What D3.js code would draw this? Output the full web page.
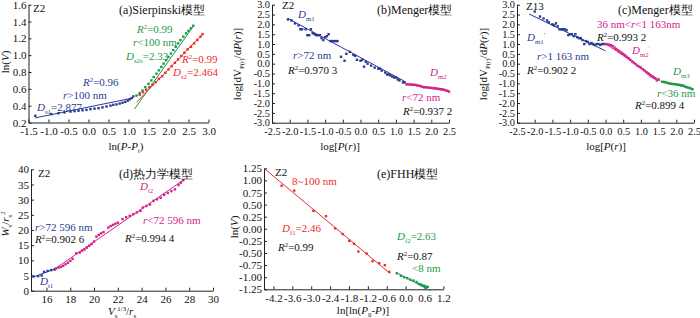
<!DOCTYPE html>
<html>
<head>
<meta charset="utf-8">
<script src="https://cdn.jsdelivr.net/npm/d3@7"></script>
<style>
  body { margin: 0; background: #fff; }
  svg text { font-family: "Liberation Serif", "Times New Roman", serif; }
  .tick text { font-size: 11px; }
  .tight .tick text { font-size: 10.3px; }
  .domain, .tick line { stroke: #222; }
</style>
</head>
<body>
<svg id="chart"></svg>
<script>
const width = 700;
const height = 318;

const BLUE = "#2b3a91";
const RED = "#ee2a2a";
const GREEN = "#1c9a49";
const PINK = "#d1228a";

// (a) Sierpinski model : ln(P-Pt) vs ln(V)
const aBlue = [[-1.33,0.28],[-0.93,0.30],[-0.75,0.31],[-0.6,0.32],[-0.45,0.33],[-0.35,0.335],[-0.25,0.34],
  [-0.15,0.345],[-0.05,0.35],[0.05,0.36],[0.15,0.365],[0.25,0.37],[0.35,0.38],[0.45,0.39],[0.55,0.40],
  [0.62,0.41],[0.7,0.415],[0.78,0.425],[0.85,0.435],[0.92,0.445],[0.98,0.46],[1.03,0.475],[1.08,0.49],[1.12,0.51]];
const aGreen = [[1.2,0.52],[1.28,0.55],[1.35,0.58],[1.42,0.62],[1.5,0.66],[1.57,0.70],[1.63,0.74],[1.7,0.78],
  [1.76,0.82],[1.82,0.86],[1.88,0.90],[1.94,0.94],[2.0,0.98],[2.06,1.02],[2.12,1.06],[2.18,1.10],[2.24,1.14],
  [2.3,1.18],[2.37,1.22],[2.44,1.26],[2.5,1.29],[2.56,1.32],[2.62,1.35]];
const aRed = [[1.28,0.53],[1.36,0.56],[1.44,0.59],[1.52,0.62],[1.6,0.65],[1.68,0.68],[1.76,0.72],[1.84,0.75],
  [1.92,0.79],[2.0,0.83],[2.08,0.87],[2.16,0.91],[2.24,0.95],[2.32,0.99],[2.4,1.03],[2.48,1.07],[2.56,1.10],
  [2.64,1.14],[2.72,1.18],[2.8,1.22],[2.85,1.25]];
const aBlueFit = [[-1.33,0.255],[1.1,0.49]];
const aGreenFit = [[1.15,0.36],[2.63,1.35]];
const aRedFit = [[1.2,0.44],[2.85,1.25]];
const aXTicks = [-1.5,-1.0,-0.5,0.0,0.5,1.0,1.5,2.0,2.5,3.0];
const aYTicks = [0.2,0.4,0.6,0.8,1.0,1.2,1.4,1.6];

// (b) Menger model, Z2
const bBlue = [[-2.05,2.25],[-1.95,2.2],[-1.85,2.05],[-1.75,1.95],[-1.7,1.75],[-1.65,1.75],[-1.55,1.75],
  [-1.5,1.45],[-1.45,1.45],[-1.4,1.75],[-1.35,1.55],[-1.3,1.5],[-1.25,1.45],[-1.2,1.45],[-1.15,1.45],
  [-1.1,1.3],[-1.05,1.2],[-1.0,1.35],[-0.95,1.4],[-0.9,1.5],[-0.85,1.15],[-0.8,1.15],[-0.75,1.15],
  [-0.7,1.15],[-0.65,1.15],[-0.55,0.35],[-0.45,0.15],[-0.4,0.5],[-0.3,0.6],[-0.2,0.45],[-0.15,0.4],
  [-0.1,0.2],[0.0,0.15],[0.05,0.2],[0.1,-0.15],[0.15,0.1],[0.2,0.0],[0.3,-0.1],[0.4,-0.2],[0.5,-0.25],
  [0.55,-0.25],[0.6,-0.35],[0.7,-0.45],[0.75,-0.55],[0.8,-0.55],[0.85,-0.6],[0.9,-0.65],[0.95,-0.7],
  [1.0,-0.7],[1.05,-0.8],[1.1,-0.85],[1.2,-0.95],[1.25,-0.95]];
const bPink = [[1.3,-1.05],[1.35,-1.05],[1.4,-1.06],[1.45,-1.06],[1.5,-1.07],[1.55,-1.08],[1.6,-1.1],
  [1.65,-1.12],[1.7,-1.14],[1.75,-1.18],[1.8,-1.2],[1.85,-1.2],[1.9,-1.21],[1.95,-1.22],[2.0,-1.23],
  [2.05,-1.24],[2.1,-1.25],[2.15,-1.26],[2.2,-1.28],[2.25,-1.29],[2.3,-1.3],[2.35,-1.32],[2.4,-1.35],
  [2.45,-1.38],[2.5,-1.42]];
const bBlueFit = [[-2.05,2.3],[1.25,-0.9]];
const bPinkFit = [[1.3,-1.03],[2.5,-1.4]];
const mXTicks = [-2.5,-2.0,-1.5,-1.0,-0.5,0.0,0.5,1.0,1.5,2.0,2.5];
const mYTicks = [-3.0,-2.5,-2.0,-1.5,-1.0,-0.5,0.0,0.5,1.0,1.5,2.0,2.5,3.0];

// (c) Menger model, Z13
const cBlue = [[-2.0,2.65],[-1.85,2.4],[-1.75,2.3],[-1.65,2.2],[-1.6,2.1],[-1.5,2.0],[-1.45,1.95],
  [-1.4,2.05],[-1.35,1.9],[-1.3,1.75],[-1.25,1.75],[-1.2,1.75],[-1.15,1.75],[-1.1,1.7],[-1.05,1.45],
  [-1.0,1.5],[-0.95,1.5],[-0.9,1.4],[-0.85,1.5],[-0.8,1.35],[-0.75,1.3],[-0.7,1.3],[-0.65,1.2],
  [-0.6,1.0],[-0.55,1.15],[-0.5,1.1],[-0.45,1.0],[-0.4,1.05],[-0.35,1.0],[-0.3,0.95],[-0.25,1.0],
  [-0.2,1.0],[-0.15,0.95],[-0.1,1.0],[-0.05,1.0]];
const cPink = [[0.0,1.0],[0.05,0.99],[0.1,0.97],[0.15,0.94],[0.2,0.9],[0.25,0.82],[0.3,0.75],[0.35,0.68],
  [0.4,0.62],[0.45,0.56],[0.5,0.5],[0.55,0.43],[0.6,0.35],[0.65,0.28],[0.7,0.2],[0.75,0.12],[0.8,0.05],
  [0.85,-0.02],[0.9,-0.1],[0.95,-0.15],[1.0,-0.2],[1.05,-0.28],[1.1,-0.35],[1.15,-0.43],[1.2,-0.5],
  [1.25,-0.58],[1.3,-0.65],[1.35,-0.7],[1.4,-0.75],[1.45,-0.85],[1.5,-0.8]];
const cGreen = [[1.6,-0.92],[1.65,-0.93],[1.7,-0.95],[1.75,-0.98],[1.8,-1.0],[1.85,-1.02],[1.9,-1.03],
  [1.95,-1.04],[2.0,-1.05],[2.05,-1.07],[2.1,-1.08],[2.15,-1.1],[2.2,-1.12],[2.25,-1.16],[2.3,-1.2],
  [2.35,-1.22],[2.4,-1.25],[2.45,-1.3]];
const cBlueFit = [[-2.16,2.53],[0.0,0.65]];
const cPinkFit = [[0.0,1.02],[1.55,-0.87]];
const cGreenFit = [[1.6,-0.9],[2.5,-1.3]];

// (d) thermodynamic model
const dBlue = [[14.9,4.7],[15.3,4.8],[15.6,5.0],[15.8,6.2],[16.1,6.5],[16.4,6.8],[16.7,7.0]];
const dPink = [[16.8,7.3],[17.0,7.6],[17.2,7.8],[17.4,8.2],[17.6,8.7],[17.8,9.2],[18.0,9.8],[18.2,10.5],
  [18.5,12.3],[18.8,12.6],[19.0,13.2],[19.2,13.6],[19.4,14.2],[19.6,14.8],[19.8,15.4],[20.0,16.2],
  [20.2,17.8],[20.4,18.4],[20.6,18.9],[20.8,19.3],[21.2,20.8],[21.4,21.3],[21.6,21.7],[21.8,22.1],
  [22.0,22.4],[22.4,23.6],[22.7,24.2],[23.0,24.7],[23.3,25.2],[23.6,25.8],[23.9,26.3],[24.1,27.4],
  [24.4,27.9],[24.7,28.4],[25.0,29.6],[25.3,30.1],[25.6,30.6],[25.9,31.6],[26.2,32.2],[26.5,32.8],
  [26.8,33.4],[27.1,34.8],[27.3,35.6],[27.5,36.4]];
const dBlueFit = [[14.9,4.5],[16.8,7.3]];
const dPinkFit = [[16.6,6.9],[27.6,36.7]];
const dXTicks = [16,18,20,22,24,26,28,30];
const dYTicks = [0,5,10,15,20,25,30,35,40];

// (e) FHH model
const eRed = [[-3.94,0.89],[-3.54,0.79],[-2.93,0.37],[-2.53,0.26],[-2.24,0.01],[-2.0,-0.11],[-1.79,-0.25],
  [-1.64,-0.31],[-1.5,-0.47],[-1.24,-0.51],[-1.05,-0.67],[-0.84,-0.71],[-0.66,-0.75],[-0.52,-0.89]];
const eGreen = [[-0.28,-0.92],[-0.15,-0.97],[-0.05,-1.0],[0.05,-1.02],[0.15,-1.05],[0.25,-1.07],
  [0.35,-1.1],[0.42,-1.14],[0.48,-1.15],[0.52,-1.17],[0.56,-1.18],[0.6,-1.18],[0.65,-1.2],[0.7,-1.2]];
const eRedFit = [[-4.5,1.25],[-0.5,-0.92]];
const eGreenFit = [[-0.28,-0.91],[0.8,-1.28]];
const eXTicks = [-4.2,-3.6,-3.0,-2.4,-1.8,-1.2,-0.6,0.0,0.6,1.2];
const eYTicks = [-1.25,-1.0,-0.75,-0.5,-0.25,0.0,0.25,0.5,0.75,1.0,1.25];

const svg = d3.select("#chart").attr("width", width).attr("height", height);
svg.append("rect").attr("width", width).attr("height", height).attr("fill", "#fff");

// small markup: *italic*, _{sub}, ^{sup}
function rich(sel, str) {
  const parts = str.split(/(\*[^*]+\*|_\{[^}]*\}|\^\{[^}]*\})/).filter((s) => s);
  let shift = 0;
  parts.forEach((p) => {
    let t = p, italic = false, dy = 0, small = false;
    if (p[0] === "*") { t = p.slice(1, -1); italic = true; }
    else if (p[0] === "_") { t = p.slice(2, -1); dy = 3; small = true; }
    else if (p[0] === "^") { t = p.slice(2, -1); dy = -4; small = true; }
    const ts = sel.append("tspan").text(t).attr("dy", dy - shift);
    shift = dy;
    if (italic) ts.attr("font-style", "italic");
    if (small) ts.attr("font-size", "0.62em");
  });
}

function note(x, y, str, color, size) {
  const t = svg.append("text").attr("x", x).attr("y", y)
    .attr("fill", color || "#111").attr("font-size", size || 11);
  rich(t, str);
  return t;
}

function panel(o) {
  const x = d3.scaleLinear().domain(o.xd).range(o.xr);
  const y = d3.scaleLinear().domain(o.yd).range(o.yr);
  const g = svg.append("g");
  g.append("g")
    .attr("class", o.tight ? "tight" : null)
    .attr("transform", `translate(0,${o.yr[0]})`)
    .call(d3.axisBottom(x).tickValues(o.xt).tickFormat(o.xf)
      .tickSizeInner(-3).tickSizeOuter(0).tickPadding(5));
  g.append("g")
    .attr("class", o.tight ? "tight" : null)
    .attr("transform", `translate(${o.xr[0]},0)`)
    .call(d3.axisLeft(y).tickValues(o.yt).tickFormat(o.yf)
      .tickSizeInner(-3).tickSizeOuter(0).tickPadding(2));
  g.selectAll(".tick text").attr("fill", "#111");

  const xt = g.append("text").attr("x", o.xl[0]).attr("y", o.xl[1])
    .attr("text-anchor", "middle").attr("font-size", 11).attr("fill", "#111");
  rich(xt, o.xlabel);
  const yt = g.append("text")
    .attr("transform", `translate(${o.yl[0]},${o.yl[1]}) rotate(-90)`)
    .attr("text-anchor", "middle").attr("font-size", 11).attr("fill", "#111");
  rich(yt, o.ylabel);
  return { x, y, g };
}

function dots(p, data, color) {
  p.g.append("g").selectAll("rect").data(data).join("rect")
    .attr("x", (d) => p.x(d[0]) - 1.2)
    .attr("y", (d) => p.y(d[1]) - 1.2)
    .attr("width", 2.4).attr("height", 2.4)
    .attr("fill", color);
}

function fit(p, ends, color) {
  p.g.append("path").datum(ends)
    .attr("d", d3.line().x((d) => p.x(d[0])).y((d) => p.y(d[1])))
    .attr("fill", "none").attr("stroke", color).attr("stroke-width", 1);
}

const f1 = (d) => d.toFixed(1);
const f2 = (d) => d.toFixed(2);
const f0 = (d) => d.toFixed(0);

// (a)
const pa = panel({
  xd: [-1.5, 3.0], xr: [28.5, 208.5], yd: [0.2, 1.6], yr: [122.5, 4.7],
  xt: aXTicks, yt: aYTicks, xf: f1, yf: f1,
  xlabel: "ln(*P*-*P*_{t})", xl: [126, 150], ylabel: "ln(*V*)", yl: [9, 62]
});
fit(pa, aBlueFit, BLUE);
dots(pa, aBlue, BLUE);
dots(pa, aRed, RED);
dots(pa, aGreen, GREEN);
fit(pa, aGreenFit, GREEN);
fit(pa, aRedFit, RED);
note(33, 12, "Z2", "#111", 11);
note(119, 14, "(a)Sierpinski模型", "#111", 12);
note(137, 33, "*R*^{2}=0.99", GREEN);
note(133, 46, "*r*<100 nm", GREEN);
note(126, 60, "*D*_{s2s}=2.33", GREEN);
note(182, 63, "*R*^{2}=0.99", RED);
note(173, 76, "*D*_{s2}=2.464", RED);
note(83, 86, "*R*^{2}=0.96", BLUE);
note(63, 99, "*r*>100 nm", BLUE);
note(37, 111, "*D*_{s1}=2.877", BLUE);

// (b)
const pb = panel({
  xd: [-2.5, 2.5], xr: [272, 449], yd: [-3, 3], yr: [122.7, 4.7], tight: true,
  xt: mXTicks, yt: mYTicks, xf: f1, yf: f1,
  xlabel: "log[*P*(*r*)]", xl: [340, 150], ylabel: "log[dV_{P(r)}/d*P*(*r*)]", yl: [241, 64]
});
dots(pb, bBlue, BLUE);
dots(pb, bPink, PINK);
fit(pb, bBlueFit, BLUE);
fit(pb, bPinkFit, PINK);
note(282, 9, "Z2", "#111", 11);
note(377, 14, "(b)Menger模型", "#111", 12);
note(298, 18, "*D*_{m1}", BLUE);
note(293, 59, "*r*>72 nm", BLUE);
note(288, 74, "*R*^{2}=0.970 3", "#111");
note(430, 76, "*D*_{m2}", PINK);
note(402, 101, "*r*<72 nm", PINK);
note(403, 115, "*R*^{2}=0.937 2", "#111");

// (c)
const pc = panel({
  xd: [-2.5, 2.5], xr: [517, 694], yd: [-3, 3], yr: [122.7, 4.7], tight: true,
  xt: mXTicks, yt: mYTicks, xf: f1, yf: f1,
  xlabel: "log[*P*(*r*)]", xl: [606, 150], ylabel: "log[dV_{P(r)}/d*P*(*r*)]", yl: [487, 64]
});
fit(pc, cBlueFit, BLUE);
dots(pc, cBlue, BLUE);
dots(pc, cPink, PINK);
dots(pc, cGreen, GREEN);
fit(pc, cPinkFit, PINK);
fit(pc, cGreenFit, GREEN);
note(526, 10, "Z13", "#111", 11);
note(618, 14, "(c)Menger模型", "#111", 12);
note(597, 28, "36 nm<*r*<1 163nm", PINK);
note(597, 41, "*R*^{2}=0.993 2", "#111");
note(632, 54, "*D*_{m2}^{'}", PINK);
note(527, 41, "*D*_{m1}^{'}", BLUE);
note(537, 60, "*r*>1 163 nm", BLUE);
note(527, 74, "*R*^{2}=0.902 2", "#111");
note(673, 75, "*D*_{m3}", GREEN);
note(657, 97, "*r*<36 nm", GREEN);
note(635, 109, "*R*^{2}=0.899 4", "#111");

// (d)
const pd = panel({
  xd: [14.7, 30], xr: [31, 213], yd: [0, 40], yr: [290.7, 169.3],
  xt: dXTicks, yt: dYTicks, xf: f0, yf: f0,
  xlabel: "*V*_{s}^{1/3}/*r*_{s}", xl: [122, 314.5], ylabel: "*W*_{s}/*r*_{s}^{2}", yl: [9, 224]
});
fit(pd, dBlueFit, BLUE);
fit(pd, dPinkFit, PINK);
dots(pd, dBlue, BLUE);
dots(pd, dPink, PINK);
note(38, 177, "Z2", "#111", 11);
note(119, 178, "(d)热力学模型", "#111", 12);
note(140, 190, "*D*_{t2}", PINK);
note(35, 231, "*r*>72 596 nm", BLUE);
note(35, 243, "*R*^{2}=0.902 6", "#111");
note(143, 224, "*r*<72 596 nm", PINK);
note(125, 242, "*R*^{2}=0.994 4", "#111");
note(40, 285, "*D*_{t1}", BLUE);

// (e)
const pe = panel({
  xd: [-4.5, 1.2], xr: [264, 443.4], yd: [-1.25, 1.25], yr: [289.3, 168.3],
  xt: eXTicks, yt: eYTicks, xf: f1, yf: f2,
  xlabel: "ln[ln(*P*_{0}-*P*)]", xl: [363, 314], ylabel: "ln(*V*)", yl: [238, 227]
});
fit(pe, eRedFit, RED);
fit(pe, eGreenFit, GREEN);
dots(pe, eRed, RED);
dots(pe, eGreen, GREEN);
note(275, 176, "Z2", "#111", 11);
note(377, 178, "(e)FHH模型", "#111", 12);
note(292, 185, "8~100 nm", RED);
note(282, 232, "*D*_{f1}=2.46", RED);
note(278, 251, "*R*^{2}=0.99", "#111");
note(397, 240, "*D*_{f2}=2.63", GREEN);
note(397, 260, "*R*^{2}=0.87", "#111");
note(412, 272, "<8 nm", GREEN);
</script>
</body>
</html>
